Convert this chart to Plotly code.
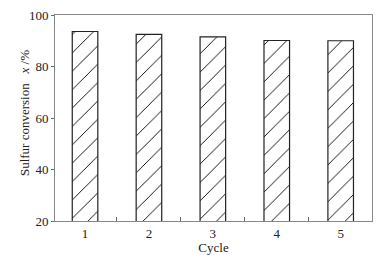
import plotly.graph_objects as go

cycles = [1, 2, 3, 4, 5]
conversion = [93.6, 92.5, 91.5, 90.1, 90.0]
y_ticks = [20, 40, 60, 80, 100]
minor_ticks = [1.5, 2.5, 3.5, 4.5]

FONT = "Liberation Serif"
fig = go.Figure(go.Bar(
    x=cycles, y=conversion, width=0.4,
    marker=dict(color="white", line=dict(color="#222", width=1.2),
                pattern=dict(shape="/", size=13, solidity=0.07, fgcolor="#000", fgopacity=1, bgcolor="white")),
))
fig.update_layout(
    width=391, height=255,
    margin=dict(l=55, r=19, t=15, b=34),
    plot_bgcolor="white", paper_bgcolor="white",
    font=dict(family=FONT, size=13, color="#222"),
    showlegend=False,
    annotations=[dict(
        text="Sulfur conversion\u00a0\u00a0\u00a0<i>x</i> /%",
        xref="paper", yref="paper", x=0, y=0.524, xshift=-31,
        xanchor="center", yanchor="middle", textangle=-90, showarrow=False,
        font=dict(family=FONT, size=13, color="#222"),
    )],
)
fig.update_xaxes(
    range=[0.53, 5.49], tickvals=cycles, ticktext=[str(c) for c in cycles],
    ticks="", showgrid=False, zeroline=False,
    showline=True, mirror=True, linecolor="#888", linewidth=1,
    minor=dict(tickvals=minor_ticks, ticks="inside", ticklen=4, tickcolor="#666", tickwidth=1, showgrid=False),
    title=dict(text="Cycle", standoff=0, font=dict(family=FONT, size=13)),
    tickfont=dict(family=FONT, size=13),
    automargin=False,
)
fig.update_yaxes(
    range=[20, 100], tickvals=y_ticks, ticks="outside", ticklen=3, tickcolor="#666",
    showgrid=False, zeroline=False,
    showline=True, mirror=True, linecolor="#888", linewidth=1,
    tickfont=dict(family=FONT, size=13),
    automargin=False,
)
fig.write_html("out.html", config={"displayModeBar": False},
               post_script="document.body.style.margin='0';")
